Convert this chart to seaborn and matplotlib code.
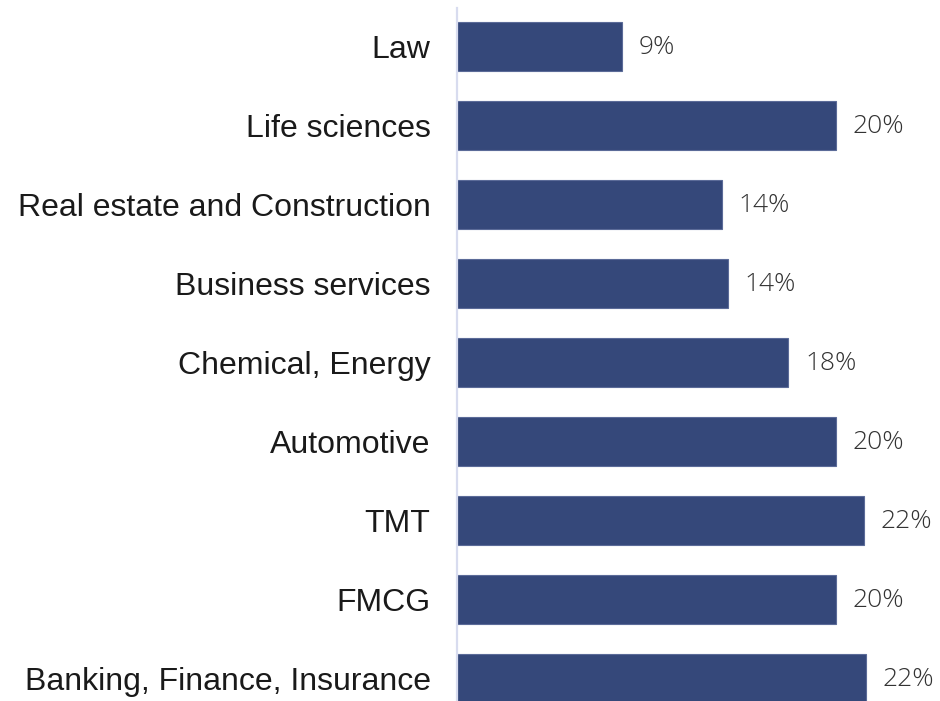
import matplotlib
matplotlib.use("Agg")
import matplotlib.pyplot as plt
import seaborn as sns
import pandas as pd

# Share of respondents by industry
industries = [
    "Law",
    "Life sciences",
    "Real estate and Construction",
    "Business services",
    "Chemical, Energy",
    "Automotive",
    "TMT",
    "FMCG",
    "Banking, Finance, Insurance",
]
shares = [8.7, 20.0, 14.0, 14.3, 17.5, 20.0, 21.5, 20.0, 21.6]

df = pd.DataFrame({"industry": industries, "share": shares})

sns.set_theme(style="white")
plt.rcParams["font.family"] = ["Liberation Sans", "DejaVu Sans"]

bar_color = "#35487a"

fig = plt.figure(figsize=(9.4, 7.01), dpi=100)
ax = fig.add_axes([457 / 940, 0.0, 1 - 457 / 940 - 0.005, 693 / 701])

sns.barplot(
    data=df, x="share", y="industry", order=industries,
    color=bar_color, saturation=1, width=0.62,
    edgecolor="#5b6b98", linewidth=0.8, ax=ax,
)

ax.set_xlim(0, 25.25)
ax.set_ylim(8.285, -0.487)
ax.set_xlabel("")
ax.set_ylabel("")
ax.set_xticks([])

for side in ("top", "right", "bottom"):
    ax.spines[side].set_visible(False)
ax.spines["left"].set_color("#d8dcef")
ax.spines["left"].set_linewidth(1.6)

ax.tick_params(axis="y", length=0, pad=19, labelsize=23, labelcolor="#1a1a1a")

# value labels next to each bar
for i, v in enumerate(shares):
    ax.annotate(
        f"{v:.0f}%", xy=(v, i), xytext=(12, -1), textcoords="offset points",
        va="center", ha="left", fontsize=19, color="#333333",
        family=["Open Sans", "DejaVu Sans"], fontweight=300,
        annotation_clip=False,
    )

fig.savefig("out.png", dpi=100, facecolor="white")
